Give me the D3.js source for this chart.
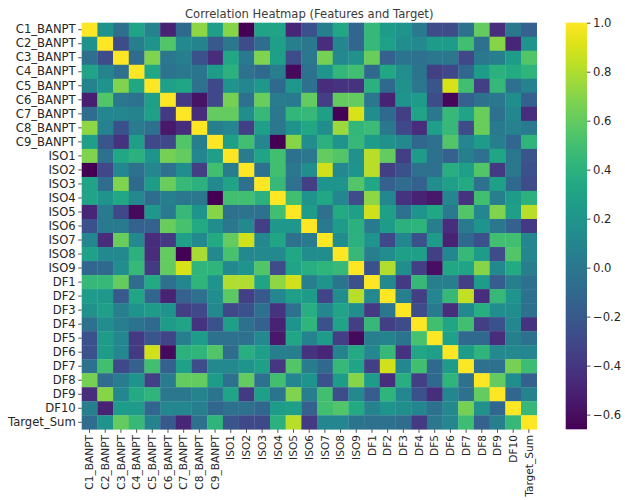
<!DOCTYPE html>
<html>
<head>
<meta charset="utf-8">
<script src="https://cdn.jsdelivr.net/npm/d3@7"></script>
<style>
  body { margin: 0; background: #fff; }
  text { font-family: "DejaVu Sans", sans-serif; }
</style>
</head>
<body>
<svg id="chart" width="625" height="500"></svg>
<script>
// feature names, same order on both axes
const labels = [
  "C1_BANPT", "C2_BANPT", "C3_BANPT", "C4_BANPT", "C5_BANPT", "C6_BANPT",
  "C7_BANPT", "C8_BANPT", "C9_BANPT", "ISO1", "ISO2", "ISO3", "ISO4", "ISO5",
  "ISO6", "ISO7", "ISO8", "ISO9", "DF1", "DF2", "DF3", "DF4", "DF5", "DF6",
  "DF7", "DF8", "DF9", "DF10", "Target_Sum"
];

// correlation rows (one row per label)
const corrRows = [
  [1.0, 0.18, -0.06, 0.3, 0.08, -0.5, -0.1, 0.72, 0.27, 0.7, -0.66, 0.3, 0.3, -0.48, -0.25, 0.05, 0.33, -0.12, 0.45, 0.25, 0.2, 0.02, -0.28, -0.28, -0.05, 0.6, -0.45, 0.0, -0.15],
  [0.18, 1.0, -0.28, 0.05, 0.2, 0.55, 0.12, 0.08, -0.2, 0.0, -0.28, -0.08, 0.27, 0.05, 0.0, -0.45, 0.1, -0.12, 0.45, 0.28, 0.15, 0.12, 0.25, 0.25, 0.5, -0.05, 0.7, -0.48, 0.2],
  [-0.06, -0.28, 1.0, -0.08, 0.68, 0.0, 0.05, -0.25, -0.45, 0.33, 0.02, 0.68, 0.27, -0.28, 0.0, 0.65, 0.12, 0.17, 0.62, -0.15, -0.03, -0.05, 0.0, 0.0, -0.3, 0.0, 0.05, 0.25, 0.55],
  [0.3, 0.08, -0.05, 1.0, 0.33, -0.03, 0.0, -0.02, 0.25, 0.4, -0.05, -0.1, 0.05, -0.62, -0.05, 0.2, 0.43, 0.5, -0.1, 0.33, 0.15, -0.02, -0.35, -0.3, -0.12, 0.25, 0.4, 0.35, 0.42],
  [0.08, 0.2, 0.68, 0.33, 1.0, 0.28, 0.32, -0.05, -0.3, 0.2, 0.1, 0.22, -0.1, 0.22, -0.05, -0.45, -0.42, -0.42, 0.4, -0.1, 0.17, 0.0, -0.22, 0.9, 0.5, -0.35, 0.45, -0.05, 0.07],
  [-0.52, 0.55, 0.0, -0.05, 0.27, 1.0, -0.38, -0.58, -0.3, 0.65, -0.05, 0.62, 0.03, 0.02, 0.6, -0.36, 0.6, 0.6, 0.0, -0.5, 0.2, 0.25, -0.28, -0.63, -0.15, -0.05, 0.0, 0.15, -0.15],
  [-0.08, 0.1, 0.1, 0.08, 0.28, -0.38, 1.0, -0.45, 0.6, 0.6, 0.15, 0.45, 0.0, 0.43, 0.45, 0.27, -0.65, 0.9, 0.15, -0.1, -0.35, 0.3, 0.0, 0.45, 0.3, 0.62, -0.05, 0.1, -0.45],
  [0.72, 0.07, -0.25, 0.03, -0.05, -0.55, -0.45, 1.0, 0.05, 0.1, -0.35, 0.27, 0.0, 0.2, 0.33, 0.15, 0.75, 0.43, 0.47, 0.0, -0.3, -0.45, 0.27, 0.45, -0.28, 0.62, 0.02, 0.07, 0.02],
  [0.27, -0.22, -0.42, 0.27, -0.3, -0.3, 0.55, 0.05, 1.0, 0.27, 0.5, 0.1, -0.66, 0.7, 0.15, 0.4, 0.2, 0.45, 0.25, 0.17, 0.12, -0.12, -0.05, 0.55, 0.1, 0.25, 0.05, -0.12, 0.42],
  [0.68, -0.05, 0.33, 0.4, 0.2, 0.65, 0.6, 0.1, 0.27, 1.0, 0.03, 0.3, 0.5, -0.05, 0.0, 0.6, 0.55, 0.17, 0.82, 0.6, -0.35, 0.25, -0.05, -0.15, 0.05, -0.05, 0.32, 0.0, -0.22],
  [-0.66, -0.3, 0.1, -0.05, 0.1, -0.05, 0.15, -0.35, 0.5, 0.03, 1.0, -0.05, 0.5, 0.0, 0.15, 0.88, 0.12, 0.2, 0.83, -0.35, -0.25, -0.05, -0.05, 0.38, 0.27, 0.55, -0.38, 0.0, -0.25],
  [0.3, -0.08, 0.68, -0.1, 0.25, 0.62, 0.45, 0.4, 0.12, 0.3, -0.05, 1.0, 0.45, -0.05, -0.35, 0.2, 0.2, 0.55, 0.33, -0.15, -0.08, -0.15, 0.15, 0.27, 0.35, -0.05, 0.27, -0.1, -0.28],
  [0.3, 0.2, 0.33, 0.12, -0.08, 0.05, 0.0, 0.0, -0.66, 0.5, 0.5, 0.4, 1.0, 0.5, 0.2, 0.33, 0.1, -0.28, 0.72, 0.1, -0.42, -0.5, -0.55, 0.1, -0.42, 0.5, 0.05, 0.25, 0.4],
  [-0.48, 0.02, -0.3, -0.62, 0.22, 0.02, 0.45, 0.2, 0.7, -0.05, -0.03, -0.05, 0.5, 1.0, 0.25, -0.05, 0.35, 0.27, 0.88, 0.27, -0.05, 0.2, 0.33, 0.02, 0.55, 0.1, 0.68, 0.27, 0.82],
  [-0.25, 0.02, 0.02, -0.15, -0.15, 0.62, 0.52, 0.35, 0.15, 0.0, 0.12, -0.35, 0.22, 0.22, 1.0, 0.02, 0.25, 0.4, 0.02, 0.25, 0.4, 0.42, 0.05, -0.45, 0.02, 0.2, 0.0, -0.15, -0.38],
  [0.1, -0.45, 0.62, 0.12, -0.45, -0.38, 0.27, 0.12, 0.35, 0.6, 0.88, 0.12, 0.32, -0.05, 0.02, 1.0, 0.15, 0.4, 0.2, -0.3, 0.1, -0.25, 0.25, -0.5, -0.1, -0.25, 0.5, 0.5, 0.1],
  [0.28, 0.12, 0.12, 0.4, -0.45, 0.6, -0.65, 0.78, 0.12, 0.52, 0.12, 0.12, 0.12, 0.33, 0.15, 0.15, 1.0, 0.45, 0.05, 0.15, 0.27, 0.27, -0.35, 0.1, 0.45, 0.25, -0.28, 0.55, 0.1],
  [-0.12, -0.1, 0.15, 0.45, -0.38, 0.6, 0.9, 0.42, 0.42, 0.12, 0.2, 0.55, -0.28, 0.3, 0.38, 0.42, 0.45, 1.0, -0.25, 0.8, 0.15, -0.35, -0.6, 0.33, 0.3, 0.7, 0.12, 0.35, 0.05],
  [0.45, 0.45, 0.6, -0.08, 0.35, -0.05, 0.1, 0.42, 0.2, 0.8, 0.8, 0.3, 0.72, 0.88, 0.05, 0.2, -0.02, -0.25, 1.0, 0.12, -0.38, 0.45, 0.05, 0.05, -0.35, 0.25, -0.18, 0.05, -0.05],
  [0.25, 0.22, -0.2, 0.32, -0.12, -0.5, -0.15, -0.05, 0.15, 0.58, -0.35, -0.2, 0.1, 0.27, 0.25, -0.32, 0.15, 0.82, 0.12, 1.0, 0.05, -0.35, 0.1, 0.45, 0.85, -0.45, 0.45, 0.2, -0.05],
  [0.17, 0.27, 0.05, 0.2, 0.25, 0.2, -0.35, -0.3, 0.12, -0.3, -0.25, -0.05, -0.42, -0.05, 0.38, 0.1, 0.3, 0.15, -0.38, 0.0, 1.0, -0.28, 0.02, -0.45, 0.12, 0.38, 0.15, 0.15, -0.05],
  [-0.05, 0.15, 0.05, -0.03, -0.1, 0.25, 0.3, -0.42, -0.25, 0.27, -0.05, -0.15, -0.5, 0.2, 0.42, -0.25, 0.3, -0.35, 0.45, -0.35, -0.28, 1.0, 0.5, 0.32, 0.5, -0.35, -0.25, 0.1, -0.42],
  [-0.25, 0.25, 0.1, -0.38, -0.22, -0.32, 0.05, 0.25, -0.05, -0.05, -0.05, 0.12, -0.55, 0.32, 0.08, 0.25, -0.35, -0.62, 0.05, 0.08, -0.02, 0.52, 1.0, 0.28, -0.1, -0.1, -0.45, 0.05, -0.05],
  [-0.25, 0.25, 0.1, -0.38, 0.88, -0.62, 0.4, 0.42, 0.55, -0.08, 0.38, 0.27, 0.05, 0.05, -0.42, -0.48, 0.08, 0.35, 0.1, 0.45, -0.42, 0.32, 0.27, 1.0, 0.25, 0.42, 0.12, 0.12, 0.1],
  [-0.05, 0.5, -0.3, -0.15, 0.5, -0.15, 0.28, -0.28, 0.12, 0.12, 0.2, 0.27, -0.4, 0.55, 0.03, -0.1, 0.45, 0.3, -0.35, 0.88, 0.1, 0.5, -0.1, 0.25, 1.0, -0.05, -0.05, 0.65, 0.48],
  [0.65, -0.08, 0.03, 0.2, -0.35, 0.03, 0.6, 0.6, 0.25, -0.05, 0.6, -0.05, 0.5, 0.1, 0.2, -0.25, 0.25, 0.7, 0.25, -0.45, 0.38, -0.35, -0.1, 0.42, -0.05, 1.0, 0.6, 0.15, -0.15],
  [-0.45, 0.7, 0.1, 0.35, 0.42, 0.0, 0.0, 0.08, -0.02, 0.3, -0.38, 0.27, -0.02, 0.68, 0.05, 0.5, -0.28, 0.12, -0.18, 0.42, 0.1, -0.25, -0.45, 0.1, -0.05, 0.6, 1.0, -0.12, 0.08],
  [0.05, -0.5, 0.25, 0.25, -0.12, 0.1, 0.1, 0.05, -0.12, -0.05, -0.05, -0.12, 0.25, 0.27, -0.15, 0.5, 0.55, 0.35, 0.08, 0.2, 0.15, 0.1, -0.05, 0.12, 0.65, 0.17, -0.12, 1.0, 0.45],
  [-0.08, 0.2, 0.6, 0.45, 0.08, -0.2, -0.48, -0.05, 0.42, -0.22, -0.3, -0.3, 0.4, 0.82, -0.38, 0.1, 0.1, -0.02, -0.05, -0.05, -0.08, -0.38, 0.0, 0.1, 0.48, -0.15, 0.05, 0.45, 1.0]
];

const colorTicks = [1.0, 0.8, 0.6, 0.4, 0.2, 0.0, -0.2, -0.4, -0.6];
const colorMin = -0.66;
const colorMax = 1.0;

// layout of the plot area
const plot = { left: 81.7, top: 22.7, right: 536.7, bottom: 429.3 };
const bar = { left: 565.7, right: 587 };

const svg = d3.select("#chart");

const x = d3.scaleBand().domain(labels).range([plot.left, plot.right]);
const y = d3.scaleBand().domain(labels).range([plot.top, plot.bottom]);
const color = d3.scaleSequential(d3.interpolateViridis).domain([colorMin, colorMax]);

// flatten rows into cells
const cells = [];
corrRows.forEach((row, i) => {
  row.forEach((v, j) => {
    cells.push({ row: labels[i], col: labels[j], value: v });
  });
});

svg
  .append("g")
  .selectAll("rect")
  .data(cells)
  .enter()
  .append("rect")
  .attr("x", (d) => x(d.col))
  .attr("y", (d) => y(d.row))
  .attr("width", x.bandwidth() + 0.3)
  .attr("height", y.bandwidth() + 0.3)
  .attr("fill", (d) => color(d.value));

// axes
const fontSize = "11.6px";
const textColor = "#262626";

const yAxis = svg
  .append("g")
  .attr("transform", "translate(" + plot.left + ",0)")
  .call(d3.axisLeft(y).tickSize(3.5).tickPadding(2.5));
yAxis.select(".domain").remove();
yAxis.selectAll("text").style("font-size", fontSize).attr("fill", textColor);
yAxis.selectAll("line").attr("stroke", textColor).attr("stroke-width", 0.8);

// rotated labels are a bit shorter in the picture
const xAxis = svg
  .append("g")
  .attr("transform", "translate(0," + plot.bottom + ")")
  .call(d3.axisBottom(x).tickSize(3.5).tickPadding(2.5));
xAxis.select(".domain").remove();
xAxis
  .selectAll("text")
  .style("font-size", "10.6px")
  .attr("fill", textColor)
  .attr("transform", "rotate(-90)")
  .attr("x", -5.7)
  .attr("y", 0)
  .attr("dy", "0.35em")
  .style("text-anchor", "end");
xAxis.selectAll("line").attr("stroke", textColor).attr("stroke-width", 0.8);

// colour bar
const defs = svg.append("defs");
const grad = defs
  .append("linearGradient")
  .attr("id", "cbar")
  .attr("x1", "0%")
  .attr("y1", "100%")
  .attr("x2", "0%")
  .attr("y2", "0%");
d3.range(0, 1.0001, 0.05).forEach((t) => {
  grad
    .append("stop")
    .attr("offset", t * 100 + "%")
    .attr("stop-color", d3.interpolateViridis(t));
});

svg
  .append("rect")
  .attr("x", bar.left)
  .attr("y", plot.top)
  .attr("width", bar.right - bar.left)
  .attr("height", plot.bottom - plot.top)
  .attr("fill", "url(#cbar)");

const cScale = d3.scaleLinear().domain([colorMin, colorMax]).range([plot.bottom, plot.top]);
const cAxis = svg
  .append("g")
  .attr("transform", "translate(" + bar.right + ",0)")
  .call(
    d3
      .axisRight(cScale)
      .tickValues(colorTicks)
      .tickSize(3.5)
      .tickPadding(2.5)
      .tickFormat(d3.format(".1f"))
  );
cAxis.select(".domain").remove();
cAxis.selectAll("text").style("font-size", fontSize).attr("fill", textColor);
cAxis.selectAll("line").attr("stroke", textColor).attr("stroke-width", 0.8);

// title
svg
  .append("text")
  .attr("x", (plot.left + plot.right) / 2)
  .attr("y", 17.5)
  .attr("text-anchor", "middle")
  .style("font-size", fontSize)
  .attr("fill", "#3a3a3a")
  .text("Correlation Heatmap (Features and Target)");
</script>
</body>
</html>
